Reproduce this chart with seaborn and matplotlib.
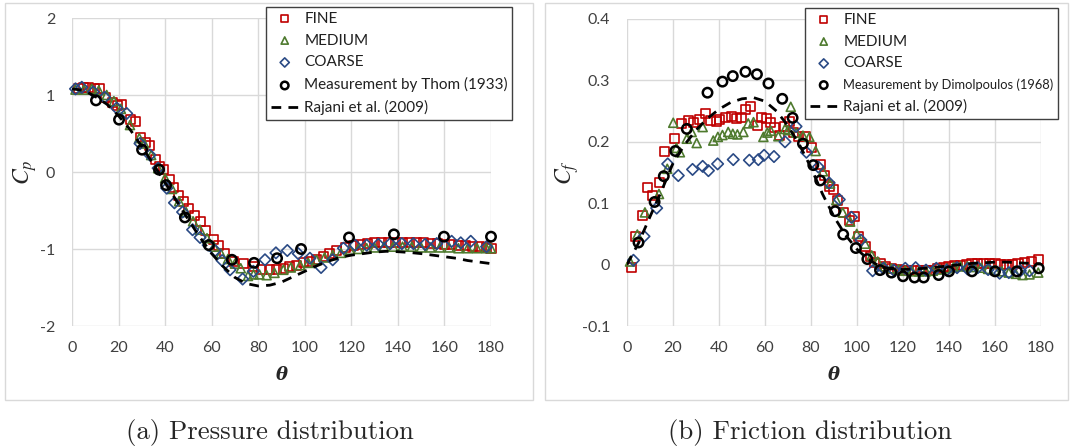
import numpy as np
import pandas as pd
import matplotlib
matplotlib.use("Agg")
import matplotlib.pyplot as plt
from matplotlib.patches import Rectangle
from matplotlib.ticker import FuncFormatter, MultipleLocator
import seaborn as sns

# ---------------- pressure coefficient, Cp ----------------
cp_fine_theta = [2.7, 5, 7, 9.5, 11.7, 14.5, 17.5, 19.5, 21.3, 25, 27.1, 29.5, 31.5, 33.5,
                 35.7, 37.5, 39.2, 41.8, 43.8, 45.7, 48, 50, 52.5, 55, 57.5, 60.7, 63, 65.7,
                 69.3, 73.6, 77.9, 81.5, 85, 87.9, 90.8, 93.6, 96.5, 99.4, 102.2, 105.1, 108,
                 110.8, 113.7, 117.3, 120.8, 124, 127, 130, 133, 136, 139, 142, 145, 148, 151,
                 154, 157, 160, 163, 166, 169, 172, 175, 178, 180]
cp_fine = [1.09, 1.10, 1.10, 1.09, 1.09, 0.97, 0.90, 0.86, 0.88, 0.68, 0.65, 0.45, 0.38, 0.35,
           0.165, 0.07, 0.026, -0.10, -0.20, -0.30, -0.38, -0.47, -0.56, -0.645, -0.76, -0.88,
           -0.96, -1.06, -1.16, -1.19, -1.23, -1.27, -1.27, -1.26, -1.25, -1.23, -1.21, -1.18,
           -1.16, -1.13, -1.10, -1.06, -1.02, -0.98, -0.96, -0.94, -0.93, -0.92, -0.91, -0.91,
           -0.91, -0.91, -0.91, -0.92, -0.92, -0.93, -0.93, -0.94, -0.94, -0.95, -0.96, -0.97,
           -0.97, -0.98, -0.99]

cp_medium_theta = [1.5, 5.2, 8.5, 11.5, 14.9, 18, 21, 24.9, 28.9, 31, 34, 37, 40, 43, 46, 49,
                   52, 55, 58, 61, 64, 67, 70, 72.5, 75.6, 78, 80.5, 83.6, 87, 90.8, 94, 98,
                   101.5, 105, 108.5, 112, 115.5, 119.4, 123, 126.6, 130, 134, 138, 142, 146,
                   150, 154, 158, 162, 166, 170, 174, 178, 180]
cp_medium = [1.07, 1.07, 1.08, 1.06, 1.00, 0.92, 0.82, 0.61, 0.44, 0.37, 0.22, 0.05, -0.08,
             -0.22, -0.38, -0.52, -0.64, -0.75, -0.86, -0.97, -1.06, -1.13, -1.19, -1.25,
             -1.35, -1.33, -1.33, -1.34, -1.31, -1.27, -1.24, -1.21, -1.18, -1.14, -1.11,
             -1.08, -1.05, -1.01, -1.00, -0.99, -0.98, -0.97, -0.97, -0.97, -0.97, -0.98,
             -0.98, -0.98, -0.98, -0.99, -0.99, -0.99, -0.99, -0.99]

cp_coarse_theta = [1.5, 4.2, 9.2, 14, 19.2, 23.5, 29.2, 33.5, 37, 40.7, 44, 47.5, 51.8, 55,
                   58.5, 61.5, 64.5, 67.9, 73.3, 77.9, 82.9, 87.6, 92.5, 97.2, 102.2, 107, 112,
                   116.6, 121.6, 126.6, 131.6, 136.7, 141.7, 146.7, 151.7, 156.7, 163.1, 167,
                   171.3, 178.1]
cp_coarse = [1.08, 1.10, 1.04, 0.97, 0.83, 0.76, 0.37, 0.22, 0.05, -0.21, -0.40, -0.52, -0.75,
             -0.85, -0.95, -1.02, -1.15, -1.27, -1.39, -1.29, -1.14, -1.05, -1.02, -1.06,
             -1.12, -1.24, -1.14, -0.99, -0.95, -0.95, -0.94, -0.93, -0.93, -0.93, -0.94,
             -0.93, -0.90, -0.92, -0.90, -0.97]

cp_thom_theta = [10.3, 20.2, 30.1, 37.4, 40.4, 48.5, 58.8, 68.7, 78.2, 88.1, 98.4, 119, 138.3,
                 159.8, 180]
cp_thom = [0.93, 0.68, 0.29, 0.03, -0.17, -0.59, -0.95, -1.14, -1.18, -1.12, -1.00, -0.85,
           -0.81, -0.84, -0.84]

cp_rajani_theta = [0, 5, 10, 15, 20, 25, 30, 35, 40, 45, 50, 55, 60, 65, 70, 75, 80, 85, 90,
                   95, 100, 105, 110, 115, 120, 125, 130, 135, 140, 145, 150, 155, 160, 165,
                   170, 175, 180]
cp_rajani = [1.08, 1.06, 0.98, 0.88, 0.73, 0.55, 0.33, 0.10, -0.14, -0.38, -0.62, -0.85, -1.06,
             -1.23, -1.37, -1.45, -1.48, -1.47, -1.43, -1.36, -1.29, -1.22, -1.16, -1.11,
             -1.08, -1.06, -1.04, -1.03, -1.035, -1.045, -1.06, -1.08, -1.10, -1.12, -1.15,
             -1.17, -1.19]

# ---------------- skin friction coefficient, Cf ----------------
cf_fine_theta = [2.0, 3.9, 6.8, 9.0, 11.2, 14.0, 16.2, 20.6, 23.8, 26.7, 28.8, 31.4, 34.0,
                 36.5, 38.7, 40.4, 43.0, 45.5, 47.7, 49.9, 51.5, 53.8, 56.6, 58.5, 60.5, 62.5,
                 64.3, 66.5, 68.5, 70.5, 72.5, 74.5, 77.4, 80.3, 84.2, 86.0, 88.0, 89.7, 91.6,
                 94.0, 96.7, 98.8, 100.6, 103.5, 105.7, 107.8, 110, 112.5, 115, 117.5, 120,
                 122.5, 125, 127.5, 130, 132.5, 135, 137.5, 140, 142.5, 145, 147.5, 150, 152.5,
                 155, 157.5, 160, 162.5, 165, 167.5, 170, 173, 176, 178.8]
cf_fine = [-0.004, 0.045, 0.080, 0.125, 0.113, 0.134, 0.184, 0.205, 0.230, 0.235, 0.232, 0.236,
           0.246, 0.234, 0.233, 0.236, 0.239, 0.241, 0.238, 0.240, 0.252, 0.257, 0.227, 0.240,
           0.238, 0.232, 0.224, 0.210, 0.225, 0.233, 0.215, 0.208, 0.208, 0.191, 0.163, 0.145,
           0.128, 0.122, 0.104, 0.085, 0.072, 0.078, 0.045, 0.029, 0.013, 0.004, 0.001, -0.003,
           -0.006, -0.008, -0.009, -0.010, -0.010, -0.010, -0.010, -0.009, -0.007, -0.005,
           -0.003, -0.002, -0.001, 0.0, 0.001, 0.002, 0.002, 0.002, 0.001, 0.0, 0.0, 0.0,
           0.001, 0.003, 0.005, 0.008]

cf_medium_theta = [1.3, 4.5, 7.8, 13.9, 17.5, 20.1, 21.5, 23.0, 26.0, 28.1, 30.3, 32.9, 37.5,
                   39.5, 41.5, 44.0, 46.0, 48.0, 50.6, 52.7, 55.0, 59.3, 61.0, 62.5, 65.8, 68.7,
                   70.0, 71.2, 73.5, 76.5, 79.3, 82.0, 85.2, 88.3, 91.0, 93.8, 97.0, 99.9, 103.5,
                   106.4, 109, 112, 115, 118, 121, 124, 127, 130, 133, 136, 139, 142, 145, 148,
                   151, 154, 157, 160, 163, 166, 169, 172, 175, 178.8]
cf_medium = [0.005, 0.049, 0.085, 0.115, 0.156, 0.231, 0.190, 0.183, 0.205, 0.216, 0.198,
             0.224, 0.202, 0.208, 0.211, 0.216, 0.213, 0.212, 0.216, 0.230, 0.232, 0.208,
             0.215, 0.218, 0.209, 0.221, 0.219, 0.257, 0.215, 0.210, 0.208, 0.185, 0.152,
             0.132, 0.105, 0.085, 0.070, 0.050, 0.034, 0.015, 0.005, -0.003, -0.006, -0.008,
             -0.010, -0.011, -0.011, -0.011, -0.010, -0.008, -0.006, -0.004, -0.003, -0.003,
             -0.004, -0.005, -0.007, -0.009, -0.011, -0.013, -0.015, -0.017, -0.016, -0.013]

cf_coarse_theta = [2.8, 7.4, 12.9, 17.7, 22.3, 28.5, 32.9, 35.4, 39.4, 46.2, 53.2, 57.1, 59.6,
                   63.9, 68.7, 73.5, 78.0, 83.2, 87.9, 92.3, 97.6, 101.7, 106.8, 111.5, 116,
                   121, 125.5, 130, 134.5, 139, 143.5, 148, 152.5, 157, 162, 166, 171, 175]
cf_coarse = [0.007, 0.046, 0.092, 0.164, 0.145, 0.155, 0.160, 0.153, 0.164, 0.171, 0.170,
             0.171, 0.178, 0.176, 0.200, 0.225, 0.183, 0.159, 0.133, 0.106, 0.077, 0.040,
             -0.010, -0.006, -0.009, -0.006, -0.005, -0.009, -0.006, -0.009, -0.005, -0.007,
             -0.005, -0.008, -0.014, -0.013, -0.010, -0.010]

cf_dimo_theta = [5, 12, 16, 21, 26, 35, 41.5, 46, 51.5, 56.5, 61.5, 67.5, 72, 76.5, 81, 84,
                 90.5, 94, 99.5, 104.5, 110, 115, 120, 125, 129, 135.5, 140, 150, 160, 169.5,
                 179]
cf_dimo = [0.036, 0.102, 0.144, 0.185, 0.221, 0.280, 0.298, 0.307, 0.314, 0.310, 0.295, 0.270,
           0.239, 0.197, 0.162, 0.137, 0.087, 0.049, 0.027, 0.009, -0.009, -0.013, -0.019,
           -0.021, -0.021, -0.017, -0.011, -0.011, -0.011, -0.011, -0.006]

cf_rajani_theta = [0, 5, 10, 15, 20, 25, 30, 35, 40, 45, 50, 55, 60, 65, 70, 75, 80, 85, 90,
                   95, 100, 105, 110, 115, 120, 125, 130, 135, 140, 145, 150, 155, 160, 165,
                   170, 175, 180]
cf_rajani = [0.0, 0.035, 0.078, 0.120, 0.165, 0.195, 0.219, 0.238, 0.253, 0.264, 0.270, 0.272,
             0.266, 0.250, 0.226, 0.195, 0.158, 0.115, 0.078, 0.048, 0.025, 0.008, -0.003,
             -0.007, -0.008, -0.007, -0.006, -0.004, -0.002, 0.0, 0.002, 0.003, 0.004, 0.004,
             0.003, 0.002, 0.001]

x_ticks = [0, 20, 40, 60, 80, 100, 120, 140, 160, 180]

# ---------------- styling ----------------
sns.set_style("white")
plt.rcParams["font.family"] = ["Lato", "DejaVu Sans"]
plt.rcParams["axes.unicode_minus"] = False
plt.rcParams["mathtext.fontset"] = "stix"

RED = "#c00000"
GREEN = "#4e7a2e"
BLUE = "#2a4a85"
GRID = "#d9d9d9"
TICK = "#404040"

W, H = 1070, 448
fig = plt.figure(figsize=(W / 100, H / 100), dpi=100)


def frac_axes(x0, x1, y0, y1):
    return fig.add_axes([x0 / W, 1 - y1 / H, (x1 - x0) / W, (y1 - y0) / H])


ax_cp = frac_axes(72, 491, 18, 326)
ax_cf = frac_axes(627, 1041, 19, 326)

# chart-area frames
for x0, x1 in [(5, 533), (545, 1068)]:
    fig.add_artist(Rectangle((x0 / W, 1 - 400 / H), (x1 - x0) / W, (400 - 3) / H,
                             transform=fig.transFigure, fill=False, edgecolor=GRID, lw=1.0))


def draw_panel(ax, fine, medium, coarse, meas, rajani, meas_label):
    common = dict(ax=ax, facecolor="none", zorder=3, clip_on=False)
    sns.scatterplot(x=fine[0], y=fine[1], marker="s", s=42, color=RED, edgecolor=RED,
                    linewidth=1.2, label="FINE", **common)
    sns.scatterplot(x=medium[0], y=medium[1], marker="^", s=42, color=GREEN, edgecolor=GREEN,
                    linewidth=1.2, label="MEDIUM", **common)
    sns.scatterplot(x=coarse[0], y=coarse[1], marker="D", s=34, color=BLUE, edgecolor=BLUE,
                    linewidth=1.2, label="COARSE", **common)
    sns.scatterplot(x=meas[0], y=meas[1], marker="o", s=46, color="black", edgecolor="black",
                    linewidth=1.8, label=meas_label, **common)
    sns.lineplot(x=rajani[0], y=rajani[1], ax=ax, color="black", lw=2.0,
                 linestyle=(0, (3.5, 2.6)), estimator=None, sort=False,
                 label="Rajani et al. (2009)", zorder=4)
    for sp in ax.spines.values():
        sp.set_visible(False)
    ax.grid(True, color=GRID, lw=1.0)
    ax.set_axisbelow(True)
    ax.set_xlim(0, 180)
    ax.set_xticks(x_ticks)
    ax.tick_params(length=0, labelsize=11.5, labelcolor=TICK)
    ax.tick_params(axis="x", pad=11)
    ax.tick_params(axis="y", pad=12)
    ax.set_xlabel("θ", family="DejaVu Serif", style="italic", weight="bold", fontsize=13,
                  labelpad=8)


draw_panel(ax_cp,
           (cp_fine_theta, cp_fine), (cp_medium_theta, cp_medium),
           (cp_coarse_theta, cp_coarse), (cp_thom_theta, cp_thom),
           (cp_rajani_theta, cp_rajani), "Measurement by Thom (1933)")
ax_cp.set_ylim(-2, 2)
ax_cp.yaxis.set_major_locator(MultipleLocator(1))
ax_cp.yaxis.set_major_formatter(FuncFormatter(lambda v, p: f"{v:g}"))
ax_cp.set_ylabel(r"$C_p$", fontsize=17, labelpad=1)

draw_panel(ax_cf,
           (cf_fine_theta, cf_fine), (cf_medium_theta, cf_medium),
           (cf_coarse_theta, cf_coarse), (cf_dimo_theta, cf_dimo),
           (cf_rajani_theta, cf_rajani), "Measurement by Dimolpoulos (1968)")
ax_cf.set_ylim(-0.1, 0.4)
ax_cf.yaxis.set_major_locator(MultipleLocator(0.1))
ax_cf.yaxis.set_major_formatter(FuncFormatter(lambda v, p: f"{round(v, 2):g}"))
ax_cf.set_ylabel(r"$C_f$", fontsize=17, labelpad=1)


def place_legend(ax, x_left, y_top, small_idx=None):
    handles, labels = ax.get_legend_handles_labels()
    leg = ax.legend(handles, labels, loc="upper left",
                    bbox_to_anchor=(x_left / W, 1 - y_top / H),
                    bbox_transform=fig.transFigure, fontsize=11, frameon=True,
                    fancybox=False, framealpha=1, edgecolor="#404040",
                    borderpad=0.3, labelspacing=0.52, handlelength=1.85,
                    handletextpad=0.35, borderaxespad=0, markerscale=0.8)
    leg.get_frame().set_linewidth(1.0)
    leg.set_zorder(10)
    for t in leg.get_texts():
        t.set_color("#202020")
    if small_idx is not None:
        leg.get_texts()[small_idx].set_fontsize(9.3)
    return leg


place_legend(ax_cp, 266, 7)
place_legend(ax_cf, 805, 8, small_idx=3)

# sub-figure captions
fig.text(270 / W, 1 - 432 / H, "(a) Pressure distribution", family="cmr10", fontsize=19.3,
         ha="center", va="center")
fig.text(810 / W, 1 - 432 / H, "(b) Friction distribution", family="cmr10", fontsize=19.3,
         ha="center", va="center")

fig.savefig("out.png", dpi=100, facecolor="white")
